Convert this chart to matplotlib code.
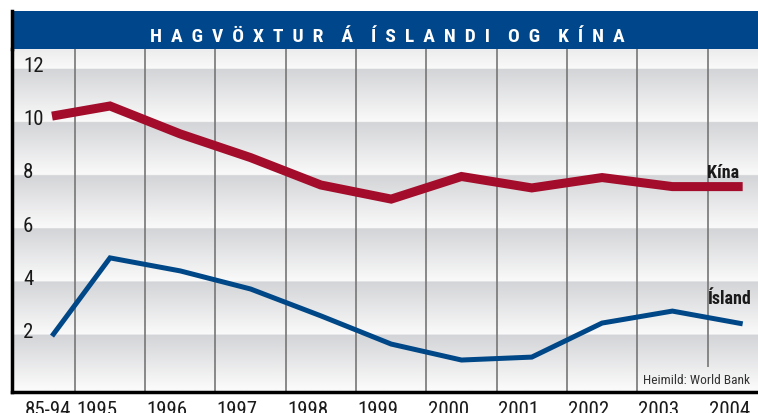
import numpy as np
import matplotlib
matplotlib.use("Agg")
import matplotlib.pyplot as plt
from matplotlib import font_manager
from matplotlib.patches import Rectangle
from matplotlib.lines import Line2D
from matplotlib.transforms import ScaledTranslation

# data (annual GDP growth, %)
categories = ["85-94", "1995", "1996", "1997", "1998", "1999",
              "2000", "2001", "2002", "2003", "2004"]
kina = [10.21, 10.59, 9.54, 8.65, 7.62, 7.09, 7.94, 7.51, 7.90, 7.56, 7.56]
island = [1.94, 4.88, 4.39, 3.71, 2.70, 1.64, 1.04, 1.15, 2.43, 2.88, 2.40]
yticks = [2, 4, 6, 8, 10, 12]

title = "HAGVÖXTUR Á ÍSLANDI OG KÍNA"
source = "Heimild: World Bank"

RED = "#a30d2b"
BLUE = "#004787"
BAR = "#00468a"

# pick a condensed face if one is installed
fonts = {(f.name, f.stretch) for f in font_manager.fontManager.ttflist}
names = {f[0] for f in fonts}
STRETCH = "normal"
if "Liberation Sans Narrow" in names:
    FONT, K = ["Liberation Sans Narrow", "DejaVu Sans"], 1.0
elif "Roboto Condensed" in names:
    FONT, K = ["Roboto Condensed", "DejaVu Sans"], 1.0
elif ("DejaVu Sans", "condensed") in fonts or ("DejaVu Sans", "semi-condensed") in fonts:
    FONT, K, STRETCH = ["DejaVu Sans"], 0.92, "condensed"
else:
    FONT, K = ["Liberation Sans", "DejaVu Sans"], 0.84

W, H = 758, 414
fig = plt.figure(figsize=(W / 100, H / 100), dpi=100)
fig.patch.set_facecolor("white")


def box(x0, y0, x1, y1):
    # pixel box (top-left origin) -> figure fraction rect
    return [x0 / W, 1 - y1 / H, (x1 - x0) / W, (y1 - y0) / H]


# title bar
fig.add_artist(Rectangle((11 / W, 1 - 50 / H), (W - 11) / W, 38 / H,
                         transform=fig.transFigure, color=BAR, lw=0))
spaced = "    ".join("  ".join(word) for word in title.split(" "))
fig.text(387.5 / W, 1 - 42 / H, spaced, color="white", fontsize=14 * K,
         fontweight="bold", family=FONT, stretch=STRETCH,
         ha="center", va="baseline")

ax = fig.add_axes(box(12, 50, W, 393))
n = len(categories)
xpos = np.arange(n, dtype=float)
xpos[0] = 0.175
xlo, xhi = -0.394, 10.218
ylo, yhi = -0.162, 12.733
ax.set_xlim(xlo, xhi)
ax.set_ylim(ylo, yhi)

# banded gradient background
yy = np.linspace(ylo, yhi, 800)
frac = np.where(yy > 0, (yy % 2) / 2, 0.0)
dark = np.array([211, 212, 215]) / 255
light = np.array([250, 250, 250]) / 255
img = light + (dark - light) * frac[:, None]
img = np.repeat(img[:, None, :], 2, axis=1)
ax.imshow(img, extent=[xlo, xhi, ylo, yhi], origin="lower", aspect="auto",
          interpolation="bilinear", zorder=0)

# category separators
seps = np.arange(n - 1) + 0.5
ax.vlines(seps[:-1], ylo, yhi, color="#767676", lw=1.2, zorder=1)
ax.vlines(seps[-1], 0.78, yhi, color="#767676", lw=1.2, zorder=1)

ax.plot(xpos, kina, color=RED, lw=6.5, solid_joinstyle="miter",
        solid_capstyle="butt", zorder=3)
ax.plot(xpos, island, color=BLUE, lw=3.6, solid_joinstyle="miter",
        solid_capstyle="butt", zorder=3)

lab_kw = dict(family=FONT, stretch=STRETCH, fontweight="bold",
              color="#1a1a1a", ha="left", va="center", zorder=4)
ax.text(9.49, 8.11, "Kína", fontsize=13 * K, **lab_kw)
ax.text(9.50, 3.37, "Ísland", fontsize=13 * K, **lab_kw)
ax.text(10.10, 0.29, source, family=FONT, stretch=STRETCH, fontsize=9.6 * K,
        color="#333333", ha="right", va="center", zorder=4)

for s in ["top", "right"]:
    ax.spines[s].set_visible(False)
ax.spines["left"].set_linewidth(2.5)
ax.spines["bottom"].set_linewidth(2.5)

ax.set_yticks(yticks)
ax.set_yticklabels([str(v) for v in yticks])
ax.tick_params(axis="y", length=0, pad=-8, labelsize=15 * K, colors="#1a1a1a")
for lab in ax.get_yticklabels():
    lab.set_family(FONT)
    lab.set_stretch(STRETCH)
    lab.set_ha("left")
    lab.set_va("baseline")
    lab.set_transform(lab.get_transform()
                      + ScaledTranslation(0, -2.5 / 100, fig.dpi_scale_trans))

xt = xpos - 0.19
xt[0] = xpos[0] - 0.06
ax.set_xticks(xt)
ax.set_xticklabels(categories)
ax.tick_params(axis="x", length=0, pad=5.5, labelsize=15 * K, colors="#1a1a1a")
for lab in ax.get_xticklabels():
    lab.set_family(FONT)
    lab.set_stretch(STRETCH)

# left rule runs up through the title bar
fig.add_artist(Line2D([12 / W, 12 / W], [1 - 12 / H, 1 - 50 / H],
                      transform=fig.transFigure, color="black", lw=2.5))

fig.savefig("out.png", dpi=100)
